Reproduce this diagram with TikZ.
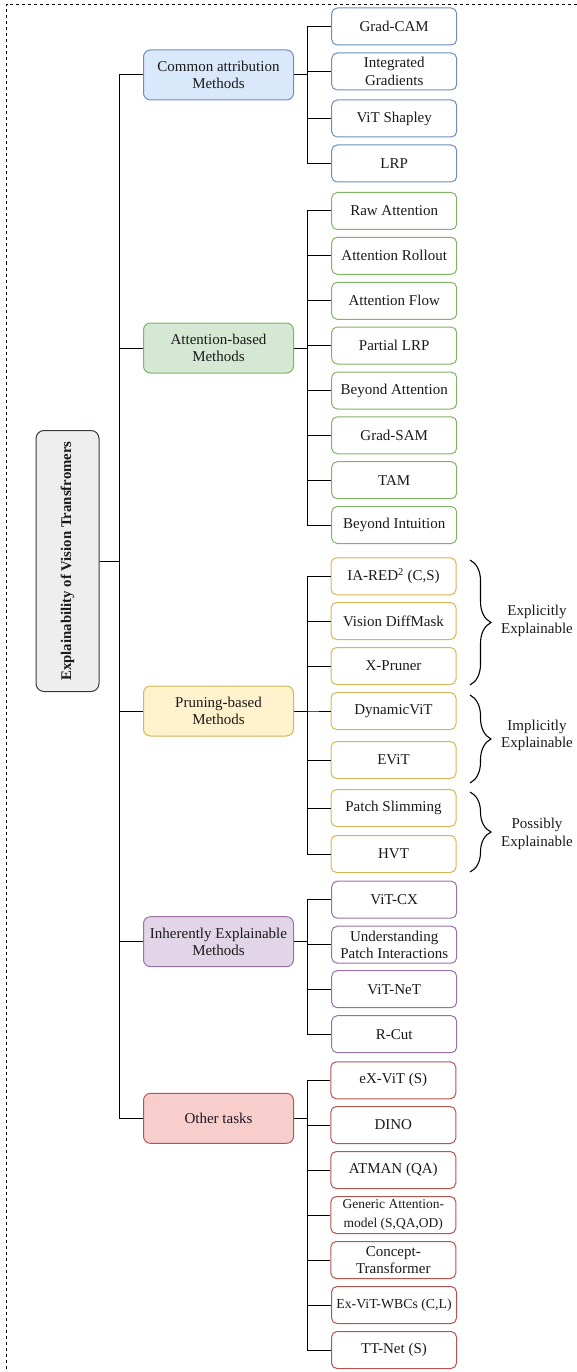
\documentclass[tikz,border=0pt]{standalone}
\usepackage{fontspec}
\setmainfont{Liberation Serif}
\usetikzlibrary{decorations.pathreplacing}
\definecolor{bfill}{HTML}{DAE8FC}\definecolor{bline}{HTML}{6C8EBF}
\definecolor{gfill}{HTML}{D5E8D4}\definecolor{gline}{HTML}{82B366}
\definecolor{yfill}{HTML}{FFF2CC}\definecolor{yline}{HTML}{D6B656}
\definecolor{pfill}{HTML}{E1D5E7}\definecolor{pline}{HTML}{9673A6}
\definecolor{rfill}{HTML}{F8CECC}\definecolor{rline}{HTML}{B85450}
\definecolor{rootfill}{HTML}{EEEEEE}\definecolor{rootline}{HTML}{36393D}
\definecolor{txt}{HTML}{1A1A1A}
\begin{document}
\begin{tikzpicture}[x=1pt,y=-1pt,
  every node/.style={font=\fontsize{15}{17.5}\selectfont, text=txt, inner sep=0pt, align=center},
  pbox/.style={rectangle, line width=1pt, rounded corners=7pt, minimum width=150pt, minimum height=50pt},
  leaf/.style={rectangle, line width=1pt, rounded corners=5.5pt, minimum width=125pt, minimum height=37pt, fill=white},
  pB/.style={pbox, draw=bline, fill=bfill}, lB/.style={leaf, draw=bline},
  pG/.style={pbox, draw=gline, fill=gfill}, lG/.style={leaf, draw=gline},
  pY/.style={pbox, draw=yline, fill=yfill}, lY/.style={leaf, draw=yline},
  pP/.style={pbox, draw=pline, fill=pfill}, lP/.style={leaf, draw=pline},
  pR/.style={pbox, draw=rline, fill=rfill}, lR/.style={leaf, draw=rline},
  conn/.style={draw=black, line width=1pt},
  bracestyle/.style={draw=black, line width=1.1pt, decorate, decoration={brace, amplitude=21pt}},
  small/.style={font=\fontsize{13.5}{19}\selectfont}
]
\useasboundingbox (0,0) rectangle (577,1372);
\draw[dash pattern=on 3pt off 3pt, line width=0.9pt] (577,4) -- (6.5,4) -- (6.5,1372);

% root
\node[rotate=90, draw=rootline, fill=rootfill, line width=1pt, rounded corners=8pt,
      minimum width=261pt, minimum height=63pt, font=\bfseries\fontsize{14.8}{17}\selectfont] (root) at (67.5,561)
  {Explainability of Vision Transfromers};

% parents
\node[pB] (p1) at (218.5,75) {Common attribution\\Methods};
\node[pG] (p2) at (218.5,348) {Attention-based\\Methods};
\node[pY] (p3) at (218.5,711) {Pruning-based\\Methods};
\node[pP] (p4) at (218.5,941.7) {Inherently Explainable\\Methods};
\node[pR] (p5) at (218.5,1118.3) {Other tasks};

% blue leaves
\node[lB] (b1) at (394.2,26.5) {Grad-CAM};
\node[lB] (b2) at (394.2,71.5) {Integrated\\Gradients};
\node[lB] (b3) at (394.2,118.5) {ViT Shapley};
\node[lB] (b4) at (394.2,163.5) {LRP};

% green leaves
\node[lG] (g1) at (394.2,211) {Raw Attention};
\node[lG] (g2) at (394.2,255.8) {Attention Rollout};
\node[lG] (g3) at (394.2,300.8) {Attention Flow};
\node[lG] (g4) at (394.2,345.5) {Partial LRP};
\node[lG] (g5) at (394.2,390.5) {Beyond Attention};
\node[lG] (g6) at (394.2,435.3) {Grad-SAM};
\node[lG] (g7) at (394.2,480.2) {TAM};
\node[lG] (g8) at (394.2,525) {Beyond Intuition};

% yellow leaves
\node[lY] (y1) at (393.5,576.3) {IA-RED\textsuperscript{2} (C,S)};
\node[lY] (y2) at (393.5,621) {Vision DiffMask};
\node[lY] (y3) at (393.5,666) {X-Pruner};
\node[lY] (y4) at (393.5,711) {DynamicViT};
\node[lY] (y5) at (393.5,760) {EViT};
\node[lY] (y6) at (393.5,808) {Patch Slimming};
\node[lY] (y7) at (393.5,854) {HVT};

% purple leaves
\node[lP] (v1) at (394.2,899.7) {ViT-CX};
\node[lP] (v2) at (394.2,944.7) {Understanding\\Patch Interactions};
\node[lP] (v3) at (394.2,989.2) {ViT-NeT};
\node[lP] (v4) at (394.2,1034.2) {R-Cut};

% red leaves
\node[lR] (r1) at (393.3,1080.3) {eX-ViT (S)};
\node[lR] (r2) at (393.3,1125) {DINO};
\node[lR] (r3) at (393.3,1170) {ATMAN (QA)};
\node[lR, small] (r4) at (393.3,1215) {Generic Attention-\\model (S,QA,OD)};
\node[lR] (r5) at (393.3,1260) {Concept-\\Transformer};
\node[lR, font=\fontsize{13.8}{16}\selectfont] (r6) at (394,1305) {Ex-ViT-WBCs (C,L)};
\node[lR] (r7) at (394,1350) {TT-Net (S)};

% connectors root -> parents
\foreach \p in {p1,p2,p3,p4,p5}
  \draw[conn] (root.south) -- ++(20,0) |- (\p.west);

% parents -> leaves
\foreach \c in {b1,b2,b3,b4}
  \draw[conn] (p1.east) -- ++(13.5,0) |- (\c.west);
\foreach \c in {g1,g2,g3,g4,g5,g6,g7,g8}
  \draw[conn] (p2.east) -- ++(13.5,0) |- (\c.west);
\foreach \c in {y1,y2,y3,y4,y5,y6,y7}
  \draw[conn] (p3.east) -- ++(13.5,0) |- (\c.west);
\foreach \c in {v1,v2,v3,v4}
  \draw[conn] (p4.east) -- ++(13.5,0) |- (\c.west);
\foreach \c in {r1,r2,r3,r4,r5,r6,r7}
  \draw[conn] (p5.east) -- ++(13.5,0) |- (\c.west);

% braces
\coordinate (e1) at (470,560); \coordinate (e2) at (470,685);
\coordinate (i1) at (470,695); \coordinate (i2) at (470,783);
\coordinate (s1) at (470,792); \coordinate (s2) at (470,872);
\draw[bracestyle] (e1) -- (e2);
\draw[bracestyle] (i1) -- (i2);
\draw[bracestyle] (s1) -- (s2);
\node (t1) at (537,621) {Explicitly\\Explainable};
\node (t2) at (537,735.5) {Implicitly\\Explainable};
\node (t3) at (537,834) {Possibly\\Explainable};
\end{tikzpicture}
\end{document}
